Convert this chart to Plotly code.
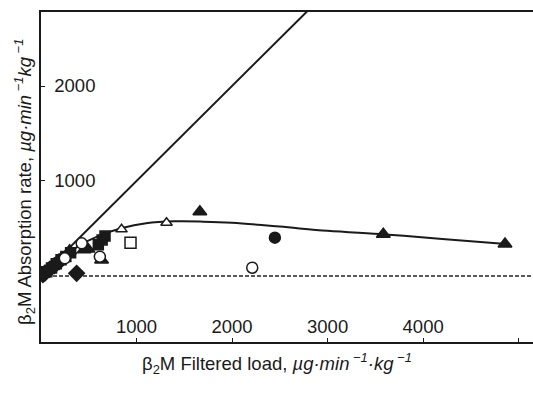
import plotly.graph_objects as go

# ---- data ----
sq_fill_x = [60, 110, 160, 210, 260, 310, 600, 640, 670]
sq_fill_y = [45, 85, 130, 170, 205, 245, 330, 380, 420]
dia_fill_x = [20, 40, 90, 140, 190, 373]
dia_fill_y = [15, 30, 70, 110, 150, 28]
tri_fill_x = [300, 450, 490, 634, 1663, 3583, 4857]
tri_fill_y = [265, 275, 285, 168, 677, 439, 337]
tri_open_x = [843, 1314]
tri_open_y = [491, 561]
circ_open_x = [249, 426, 616, 2211]
circ_open_y = [186, 344, 203, 87]
sq_open_x = [937]
sq_open_y = [351]
circ_fill_x = [2448]
circ_fill_y = [403]

curve_x = [0, 200, 400, 600, 850, 1100, 1400, 1700, 2000, 2500, 3000, 3600, 4200, 4900]
curve_y = [0, 170, 320, 420, 505, 555, 575, 572, 560, 520, 475, 437, 390, 335]

identity_x = [0, 3000]
identity_y = [0, 3000]
zero_x = [0, 5200]
zero_y = [0, 0]

x_ticks = [1000, 2000, 3000, 4000]
x_ticktext = ["1000", "2000", "3000", "4000"]
x_minor_ticks = [5000]
y_ticks = [1000, 2000]
y_ticktext = ["1000", "2000"]

INK = "#1a1a1a"
FONT = "Liberation Sans, Arial, sans-serif"
FS = 18.5

fig = go.Figure()
fig.add_trace(go.Scatter(x=zero_x, y=zero_y, mode="lines",
                         line=dict(color="#222222", width=1.3, dash="4px,2px")))
fig.add_trace(go.Scatter(x=identity_x, y=identity_y, mode="lines",
                         line=dict(color=INK, width=2)))
fig.add_trace(go.Scatter(x=curve_x, y=curve_y, mode="lines",
                         line=dict(color=INK, width=2, shape="spline", smoothing=1.0)))

def pts(x, y, symbol, fill, size=11):
    fig.add_trace(go.Scatter(x=x, y=y, mode="markers",
                             marker=dict(symbol=symbol, size=size, color=fill,
                                         line=dict(color=INK, width=1.5))))

pts(sq_fill_x, sq_fill_y, "square", INK, 10)
pts(dia_fill_x, dia_fill_y, "diamond", INK, 12)
pts(tri_fill_x, tri_fill_y, "triangle-up", INK, 12)
pts(tri_open_x, tri_open_y, "triangle-up", "white", 10)
pts(circ_open_x, circ_open_y, "circle", "white", 11)
pts(sq_open_x, sq_open_y, "square", "white", 11)
pts(circ_fill_x, circ_fill_y, "circle", INK, 11)

fig.update_layout(
    width=533, height=393,
    margin=dict(l=41, r=0, t=12, b=51),
    paper_bgcolor="white", plot_bgcolor="white",
    showlegend=False,
    font=dict(family=FONT, color=INK, size=FS),
    xaxis=dict(range=[0, 5150], showgrid=False, zeroline=False,
               showline=True, linecolor=INK, linewidth=2, mirror=True,
               ticks="inside", ticklen=4, tickcolor=INK,
               tickvals=x_ticks, ticktext=x_ticktext,
               minor=dict(tickvals=x_minor_ticks, ticks="inside", ticklen=4, tickcolor=INK),
               ticklabelposition="inside", ticklabelstandoff=2,
               tickfont=dict(size=FS, family=FONT, color=INK)),
    yaxis=dict(range=[-695, 2779], showgrid=False, zeroline=False,
               showline=True, linecolor=INK, linewidth=2,
               ticks="inside", ticklen=4, tickcolor=INK,
               tickvals=y_ticks, ticktext=y_ticktext,
               ticklabelposition="inside", ticklabelstandoff=10,
               tickfont=dict(size=FS, family=FONT, color=INK)),
    annotations=[
        dict(text="β<sub>2</sub>M Filtered load, <i>µg·min<sup> −1</sup>·kg<sup> −1</sup></i>",
             xref="paper", yref="paper", x=0.48, y=-0.064, showarrow=False,
             xanchor="center", yanchor="middle", font=dict(size=FS, family=FONT, color=INK)),
        dict(text="β<sub>2</sub>M Absorption rate, <i>µg·min<sup> −1</sup>kg<sup> −1</sup></i>",
             xref="paper", yref="paper", x=-0.0325, y=0.485, showarrow=False, textangle=-90,
             xanchor="center", yanchor="middle", font=dict(size=FS, family=FONT, color=INK)),
    ],
)

fig.write_html("out.html")
